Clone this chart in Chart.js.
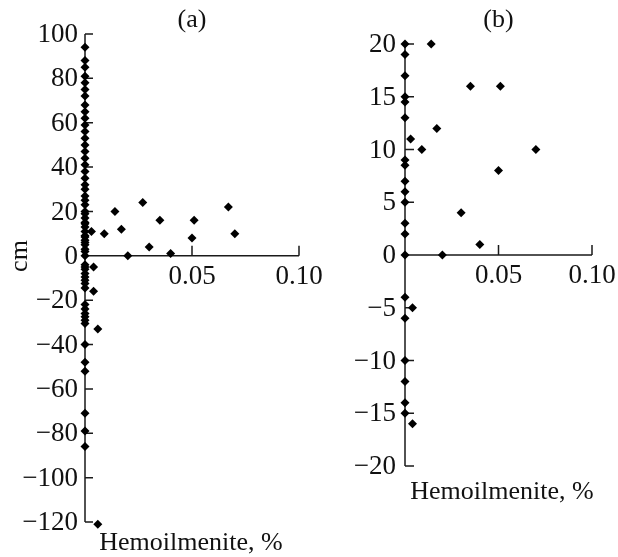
<!DOCTYPE html>
<html>
<head>
<meta charset="utf-8">
<script src="https://cdn.jsdelivr.net/npm/chart.js@4.4.1/dist/chart.umd.min.js"></script>
<style>
  body { margin: 0; background: #fff; }
  #wrap { position: relative; width: 618px; height: 557px; }
  canvas { position: absolute; top: 0; }
</style>
</head>
<body>
<div id="wrap">
  <canvas id="chartA" width="340" height="557" style="left:0"></canvas>
  <canvas id="chartB" width="278" height="557" style="left:340px"></canvas>
</div>
<script>
// panel (a): depth (cm) vs hemoilmenite (%)
var hemA = [0, 0, 0, 0, 0, 0, 0, 0, 0, 0, 0, 0, 0, 0, 0, 0, 0, 0, 0, 0,
            0, 0, 0, 0, 0, 0, 0, 0, 0, 0, 0, 0, 0, 0, 0, 0, 0, 0, 0,
            0, 0, 0, 0, 0, 0, 0, 0, 0, 0, 0, 0, 0, 0, 0, 0, 0, 0, 0, 0,
            0.003, 0.009, 0.014, 0.017, 0.020, 0.027, 0.030, 0.035, 0.040, 0.050, 0.051, 0.067, 0.070,
            0.004, 0.004, 0.006, 0.006];
var depthA = [94, 88, 85, 81, 78, 75, 72, 68, 65, 62, 59, 56, 53, 50, 47, 44, 41, 38, 35, 32,
              30, 27, 25, 23, 20, 19, 17, 15, 14.5, 13, 11, 9, 8.5, 7, 6, 5, 3, 2, 0,
              -4, -5, -6, -8, -9.5, -11, -12.5, -14.5, -22, -24, -26, -27.5, -29, -30.5, -40, -48, -52, -71, -79, -86,
              11, 10, 20, 12, 0, 24, 4, 16, 1, 8, 16, 22, 10,
              -5, -16, -33, -121];

// panel (b): enlarged upper part
var hemB = [0, 0, 0, 0, 0, 0, 0, 0, 0, 0, 0, 0, 0, 0,
            0, 0, 0, 0, 0, 0,
            0.003, 0.009, 0.014, 0.017, 0.020, 0.030, 0.035, 0.040, 0.050, 0.051, 0.070,
            0.004, 0.004];
var depthB = [20, 19, 17, 15, 14.5, 13, 9, 8.5, 7, 6, 5, 3, 2, 0,
              -4, -6, -10, -12, -14, -15,
              11, 10, 20, 12, 0, 4, 16, 1, 8, 16, 10,
              -5, -16];

var yTicksA = [100, 80, 60, 40, 20, 0, -20, -40, -60, -80, -100, -120];
var yTicksB = [20, 15, 10, 5, 0, -5, -10, -15, -20];
var xTicks = [0.05, 0.10];
var xTickLabels = ['0.05', '0.10'];

var FONT = '"Liberation Serif", "Times New Roman", serif';

function toPoints(xs, ys) {
    var pts = [];
    for (var i = 0; i < xs.length; i++) pts.push({ x: xs[i], y: ys[i] });
    return pts;
}

function fmt(v) {
    return v < 0 ? '\u2212' + Math.abs(v) : String(v);
}

// axes drawn by hand: y axis at x=0, x axis at y=0, ticks pointing inward
function axesPlugin(o) {
    return {
        id: 'axes_' + o.title,
        beforeDatasetsDraw: function (chart) {
            var ctx = chart.ctx;
            var sx = chart.scales.x, sy = chart.scales.y;
            var x0 = sx.getPixelForValue(0), y0 = sy.getPixelForValue(0);
            ctx.save();
            ctx.strokeStyle = '#1a1a1a';
            ctx.lineWidth = 1.5;
            ctx.beginPath();
            ctx.moveTo(x0, sy.getPixelForValue(sy.max));
            ctx.lineTo(x0, sy.getPixelForValue(sy.min));
            ctx.moveTo(x0, y0);
            ctx.lineTo(sx.getPixelForValue(sx.max), y0);
            o.yTicks.forEach(function (v) {
                var py = sy.getPixelForValue(v);
                ctx.moveTo(x0, py);
                ctx.lineTo(x0 + o.yTickLen, py);
            });
            xTicks.forEach(function (v) {
                var px = sx.getPixelForValue(v);
                ctx.moveTo(px, y0);
                ctx.lineTo(px, y0 - 10);
            });
            ctx.stroke();

            ctx.fillStyle = '#111';
            ctx.font = '27px ' + FONT;
            ctx.textAlign = 'right';
            ctx.textBaseline = 'middle';
            o.yTicks.forEach(function (v) {
                ctx.fillText(fmt(v), x0 - o.yLabelGap, sy.getPixelForValue(v) + 1);
            });
            ctx.textAlign = 'center';
            xTicks.forEach(function (v, i) {
                ctx.fillText(xTickLabels[i], sx.getPixelForValue(v), y0 + 21);
            });

            ctx.font = '26px ' + FONT;
            ctx.fillText(o.title, sx.getPixelForValue(0.05), 20);
            ctx.fillText('Hemoilmenite, %', o.xTitleX, o.xTitleY);
            if (o.yTitle) {
                ctx.translate(20, 256);
                ctx.rotate(-Math.PI / 2);
                ctx.fillText(o.yTitle, 0, 0);
            }
            ctx.restore();
        }
    };
}

function makeChart(id, xs, ys, ymin, ymax, pad, o) {
    return new Chart(document.getElementById(id), {
        type: 'scatter',
        data: {
            datasets: [{
                data: toPoints(xs, ys),
                pointStyle: 'rectRot',
                pointRadius: 4.5,
                pointBackgroundColor: '#000',
                pointBorderColor: '#000',
                pointBorderWidth: 0
            }]
        },
        options: {
            responsive: false,
            animation: false,
            layout: { padding: pad },
            plugins: { legend: { display: false }, tooltip: { enabled: false } },
            scales: {
                x: { type: 'linear', min: 0, max: 0.1, display: false },
                y: { type: 'linear', min: ymin, max: ymax, display: false }
            },
            clip: false
        },
        plugins: [axesPlugin(o)]
    });
}

document.addEventListener('DOMContentLoaded', function () {
    makeChart('chartA', hemA, depthA, -120, 100,
        { left: 85, right: 41, top: 34, bottom: 35 },
        { title: '(a)', yTicks: yTicksA, yTickLen: 8, yLabelGap: 7, xTitleX: 191, xTitleY: 543, yTitle: 'cm' });

    makeChart('chartB', hemB, depthB, -20, 20,
        { left: 65, right: 26, top: 44, bottom: 91 },
        { title: '(b)', yTicks: yTicksB, yTickLen: 9, yLabelGap: 9, xTitleX: 162, xTitleY: 492 });
});
</script>
</body>
</html>
